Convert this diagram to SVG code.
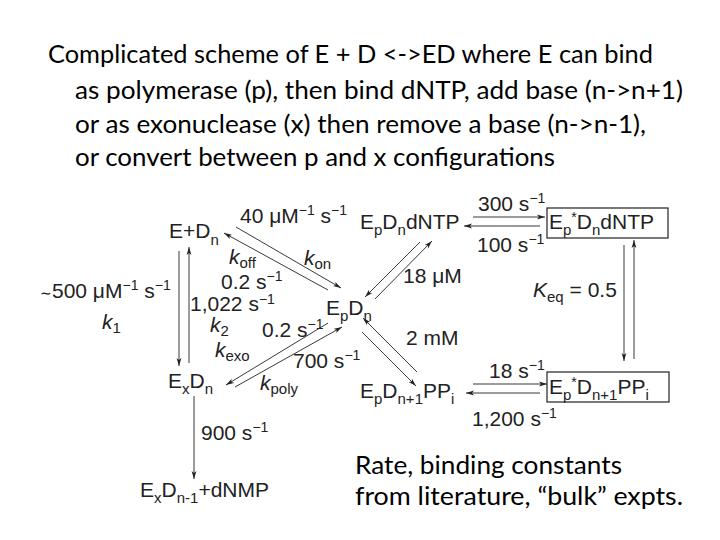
<svg xmlns="http://www.w3.org/2000/svg" width="720" height="540" viewBox="0 0 720 540">
<style>
.ttl{font-family:Lato,"Open Sans",sans-serif;font-size:25px;fill:#000}
.t{font-family:"Liberation Sans",Arial,sans-serif;font-size:21px;fill:#222}
.sb{font-size:15px}
.sp{font-size:14px}
.i{font-style:italic}
.ln{stroke:#222;stroke-width:0.9;fill:none}
.a{marker-end:url(#ah)}
.box{fill:none;stroke:#222;stroke-width:1.2}
</style>
<defs>
<marker id="ah" markerUnits="userSpaceOnUse" markerWidth="8" markerHeight="6" refX="8" refY="3" orient="auto">
<path d="M0,0.6 L8,3 L0,5.4 L2,3 z" fill="#222"/>
</marker>
</defs>
<rect width="720" height="540" fill="#fff"/>
<g id="title">
<text class="ttl" x="48" y="63" textLength="605" lengthAdjust="spacingAndGlyphs">Complicated scheme of E + D &lt;-&gt;ED where E can bind</text>
<text class="ttl" x="75" y="99" textLength="608" lengthAdjust="spacingAndGlyphs">as polymerase (p), then bind dNTP, add base (n-&gt;n+1)</text>
<text class="ttl" x="75" y="133" textLength="571" lengthAdjust="spacingAndGlyphs">or as exonuclease (x) then remove a base (n-&gt;n-1),</text>
<text class="ttl" x="75" y="166" textLength="480" lengthAdjust="spacingAndGlyphs">or convert between p and x configurations</text>
</g>
<g id="note">
<text class="ttl" x="355" y="474" textLength="267" lengthAdjust="spacingAndGlyphs">Rate, binding constants</text>
<text class="ttl" x="355" y="505" textLength="328" lengthAdjust="spacingAndGlyphs">from literature, “bulk” expts.</text>
</g>
<g id="connectors">
<line class="ln a" x1="236" y1="227" x2="341" y2="288"/>
<line class="ln a" x1="328" y1="290" x2="224" y2="233"/>
<line class="ln a" x1="473" y1="217" x2="545" y2="217"/>
<line class="ln a" x1="540" y1="226" x2="464" y2="226"/>
<line class="ln a" x1="420" y1="242" x2="365" y2="297"/>
<line class="ln a" x1="375" y1="299" x2="432" y2="241"/>
<line class="ln a" x1="624" y1="245" x2="624" y2="361"/>
<line class="ln a" x1="634" y1="359" x2="634" y2="240"/>
<line class="ln a" x1="362" y1="332" x2="416" y2="386"/>
<line class="ln a" x1="417" y1="372" x2="363" y2="318"/>
<line class="ln a" x1="473" y1="384" x2="547" y2="384"/>
<line class="ln a" x1="540" y1="393" x2="466" y2="393"/>
<line class="ln a" x1="179" y1="251" x2="179" y2="366"/>
<line class="ln a" x1="189" y1="363" x2="189" y2="247"/>
<line class="ln a" x1="328" y1="323" x2="226" y2="385"/>
<line class="ln a" x1="235" y1="387" x2="342" y2="327"/>
<line class="ln a" x1="194" y1="396" x2="194" y2="479"/>
</g>
<g id="node-EDn"><text class="t" x="169" y="238">E+D<tspan class="sb" dy="7">n</tspan></text></g>
<g id="node-EpDndNTP"><text class="t" x="360" y="229">E<tspan class="sb" dy="6">p</tspan><tspan dy="-6">D</tspan><tspan class="sb" dy="6">n</tspan><tspan dy="-6">dNTP</tspan></text></g>
<g id="node-EpsDndNTP"><rect class="box" x="547" y="208" width="121" height="30"/><text class="t" x="549" y="229">E<tspan class="sb" dy="6">p</tspan><tspan class="sp" dy="-13">*</tspan><tspan dy="7">D</tspan><tspan class="sb" dy="6">n</tspan><tspan dy="-6">dNTP</tspan></text></g>
<g id="node-EpDn"><text class="t" x="326" y="315">E<tspan class="sb" dy="6">p</tspan><tspan dy="-6">D</tspan><tspan class="sb" dy="6">n</tspan></text></g>
<g id="node-ExDn"><text class="t" x="168" y="388">E<tspan class="sb" dy="6">x</tspan><tspan dy="-6">D</tspan><tspan class="sb" dy="6">n</tspan></text></g>
<g id="node-EpDn1PPi"><text class="t" x="360" y="398">E<tspan class="sb" dy="6">p</tspan><tspan dy="-6">D</tspan><tspan class="sb" dy="6">n+1</tspan><tspan dy="-6">PP</tspan><tspan class="sb" dy="6">i</tspan></text></g>
<g id="node-EpsDn1PPi"><rect class="box" x="547" y="372" width="122" height="30"/><text class="t" x="549" y="394">E<tspan class="sb" dy="6">p</tspan><tspan class="sp" dy="-13">*</tspan><tspan dy="7">D</tspan><tspan class="sb" dy="6">n+1</tspan><tspan dy="-6">PP</tspan><tspan class="sb" dy="6">i</tspan></text></g>
<g id="node-ExDn1dNMP"><text class="t" x="140" y="497">E<tspan class="sb" dy="6">x</tspan><tspan dy="-6">D</tspan><tspan class="sb" dy="6">n-1</tspan><tspan dy="-6">+dNMP</tspan></text></g>
<g id="labels">
<text class="t" x="240" y="223">40 μM<tspan class="sp" dy="-8">−1</tspan><tspan dy="8"> s</tspan><tspan class="sp" dy="-8">−1</tspan></text>
<text class="t" x="229" y="264"><tspan class="i">k</tspan><tspan class="sb" dy="4">off</tspan></text>
<text class="t" x="304" y="265"><tspan class="i">k</tspan><tspan class="sb" dy="4">on</tspan></text>
<text class="t" x="221" y="289">0.2 s<tspan class="sp" dy="-8">−1</tspan></text>
<text class="t" x="190" y="311">1,022 s<tspan class="sp" dy="-7">−1</tspan></text>
<text class="t" x="210" y="332"><tspan class="i">k</tspan><tspan class="sb" dy="4">2</tspan></text>
<text class="t" x="215" y="357"><tspan class="i">k</tspan><tspan class="sb" dy="4">exo</tspan></text>
<text class="t" x="262" y="337">0.2 s<tspan class="sp" dy="-8">−1</tspan></text>
<text class="t" x="293" y="368">700 s<tspan class="sp" dy="-8">−1</tspan></text>
<text class="t" x="260" y="390"><tspan class="i">k</tspan><tspan class="sb" dy="4">poly</tspan></text>
<text class="t" x="40" y="298"><tspan font-size="14">∼</tspan>500 μM<tspan class="sp" dy="-8">−1</tspan><tspan dy="8"> s</tspan><tspan class="sp" dy="-8">−1</tspan></text>
<text class="t" x="102" y="329"><tspan class="i">k</tspan><tspan class="sb" dy="4">1</tspan></text>
<text class="t" x="201" y="440">900 s<tspan class="sp" dy="-8">−1</tspan></text>
<text class="t" x="478" y="211">300 s<tspan class="sp" dy="-8">−1</tspan></text>
<text class="t" x="477" y="252">100 s<tspan class="sp" dy="-8">−1</tspan></text>
<text class="t" x="403" y="283">18 μM</text>
<text class="t" x="533" y="297"><tspan class="i">K</tspan><tspan class="sb" dy="5">eq</tspan><tspan dy="-5"> = 0.5</tspan></text>
<text class="t" x="406" y="345">2 mM</text>
<text class="t" x="489" y="378">18 s<tspan class="sp" dy="-8">−1</tspan></text>
<text class="t" x="472" y="426">1,200 s<tspan class="sp" dy="-8">−1</tspan></text>
</g>
</svg>
